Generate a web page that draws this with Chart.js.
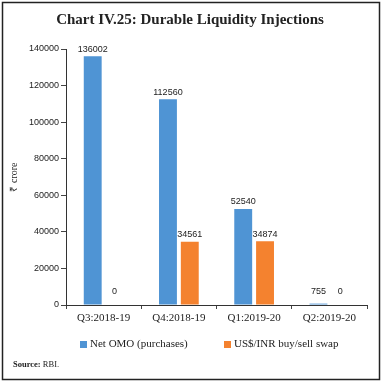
<!DOCTYPE html>
<html>
<head>
<meta charset="utf-8">
<script src="https://cdn.jsdelivr.net/npm/chart.js@4"></script>
<style>
html,body{margin:0;padding:0;background:#fff;}
canvas{display:block;}
</style>
</head>
<body>
<canvas id="c" width="383" height="384"></canvas>
<script>
const categories = ["Q3:2018-19", "Q4:2018-19", "Q1:2019-20", "Q2:2019-20"];
const netOMO = [136002, 112560, 52540, 755];
const fxSwap = [0, 34561, 34874, 0];
const seriesNames = ["Net OMO (purchases)", "US$/INR buy/sell swap"];
const seriesColors = ["#4f94d4", "#f4822f"];
const yTicks = [0, 20000, 40000, 60000, 80000, 100000, 120000, 140000];
const titleText = "Chart IV.25: Durable Liquidity Injections";
const yTitle = "₹ crore";

const decorPlugin = {
  id: "decor",
  afterDraw(chart) {
    const ctx = chart.ctx;
    ctx.save();
    // frame
    ctx.strokeStyle = "#222";
    ctx.lineWidth = 1.5;
    ctx.strokeRect(2.5, 2.5, 377, 377);
    // title
    ctx.fillStyle = "#222";
    ctx.font = "bold 15px 'Liberation Serif'";
    ctx.textAlign = "center";
    ctx.textBaseline = "middle";
    ctx.fillText(titleText, 190, 20);
    // data labels
    ctx.font = "9px 'Liberation Sans'";
    ctx.fillStyle = "#222";
    chart.data.datasets.forEach((ds, di) => {
      const meta = chart.getDatasetMeta(di);
      meta.data.forEach((bar, i) => {
        const y = Math.min(bar.y, bar.base - 6) - 7;
        ctx.fillText(String(ds.data[i]), bar.x, y);
      });
    });
    // legend
    ctx.font = "11px 'Liberation Serif'";
    ctx.textAlign = "left";
    const legX = [80, 224];
    chart.data.datasets.forEach((ds, di) => {
      ctx.fillStyle = ds.backgroundColor;
      ctx.fillRect(legX[di], 341, 7, 7);
      ctx.fillStyle = "#222";
      ctx.fillText(ds.label, legX[di] + 10, 344.5);
    });
    // source
    ctx.font = "bold 8.5px 'Liberation Serif'";
    ctx.fillText("Source:", 13, 365);
    const w = ctx.measureText("Source: ").width;
    ctx.font = "8.5px 'Liberation Serif'";
    ctx.fillText("RBI.", 13 + w, 365);
    ctx.restore();
  }
};

new Chart(document.getElementById("c"), {
  type: "bar",
  data: {
    labels: categories,
    datasets: [
      { label: seriesNames[0], data: netOMO, backgroundColor: seriesColors[0], barPercentage: 0.82, categoryPercentage: 0.58 },
      { label: seriesNames[1], data: fxSwap, backgroundColor: seriesColors[1], barPercentage: 0.82, categoryPercentage: 0.58 }
    ]
  },
  options: {
    responsive: false,
    animation: false,
    devicePixelRatio: 1,
    layout: { padding: { left: 0, right: 16, top: 49, bottom: 0 } },
    plugins: {
      legend: { display: false },
      title: { display: false },
      tooltip: { enabled: false }
    },
    scales: {
      x: {
        afterFit(s) { s.height = 79; },
        grid: { drawOnChartArea: false, tickLength: 4, color: "#444", offset: true },
        border: { color: "#333", width: 1 },
        ticks: { color: "#222", font: { family: "'Liberation Serif'", size: 11 }, padding: 3, maxRotation: 0 }
      },
      y: {
        min: 0, max: 140000,
        afterFit(s) { s.width = 66; },
        afterBuildTicks(s) { s.ticks = yTicks.map(v => ({ value: v })); },
        grid: { drawOnChartArea: false, tickLength: 5, color: "#444" },
        border: { color: "#333", width: 1 },
        ticks: { color: "#222", font: { family: "'Liberation Sans'", size: 9 }, padding: 2, callback: v => String(v) },
        title: { display: true, text: yTitle, color: "#222", font: { family: "'Liberation Serif'", size: 10 }, padding: { top: 8, bottom: 0 } }
      }
    }
  },
  plugins: [decorPlugin]
});
</script>
</body>
</html>
